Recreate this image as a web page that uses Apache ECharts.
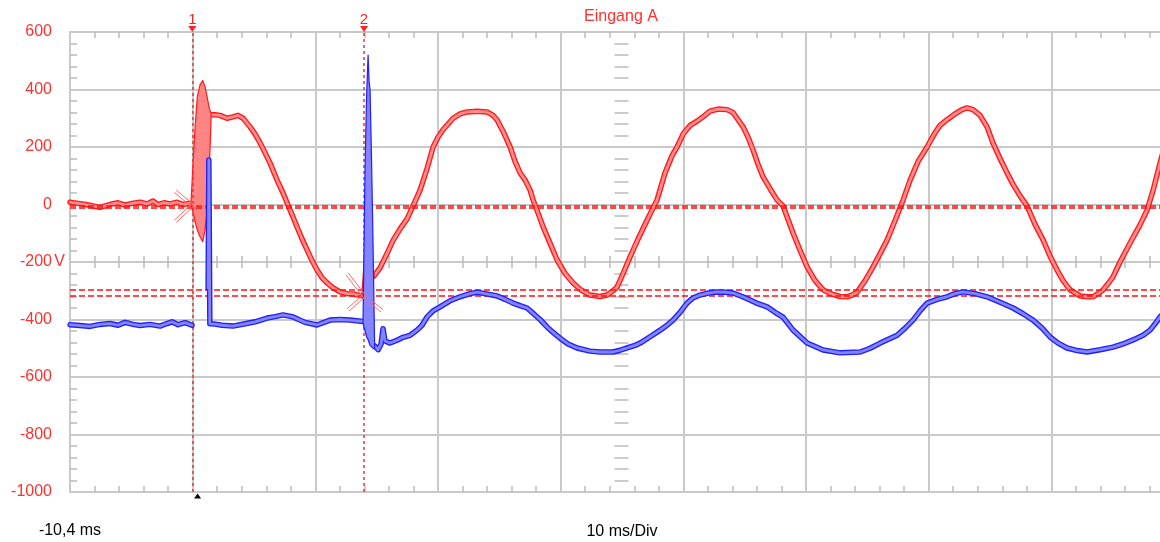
<!DOCTYPE html>
<html>
<head>
<meta charset="utf-8">
<script src="https://cdn.jsdelivr.net/npm/echarts@6.0.0/dist/echarts.min.js"></script>
<style>
  html, body { margin: 0; padding: 0; background: #fff; }
  #chart { width: 1160px; height: 542px; }
</style>
</head>
<body>
<div id="chart"></div>
<script>
// Channel A (red) and channel B (blue): [time ms, volts], null = gap
const chA = [
  [-10.4, 8], [-9.74, 4], [-9.09, 0], [-8.44, -6], [-7.95, -10], [-7.46, -4], [-6.97, 2], [-6.48, 6],
  [-5.91, -2], [-5.34, 4], [-4.69, 8], [-4.12, 2], [-3.63, 12], [-3.22, 0], [-2.73, 6], [-2.24, 2],
  [-1.67, 8], [-1.18, 0], [-0.69, 4], [-0.53, 2], [0.3, null],
  [1.10, 312], [1.43, 312], [1.83, 310], [2.40, 300], [2.89, 305], [3.30, 310], [3.71, 300], [4.28, 270],
  [4.69, 245], [5.10, 214], [5.50, 180], [5.91, 144], [6.48, 85], [6.97, 40], [7.30, 5], [7.70, -35],
  [8.11, -78], [8.52, -120], [8.93, -158], [9.33, -195], [9.74, -228], [10.15, -255], [10.56, -273],
  [11.05, -290], [11.62, -304], [12.19, -310], [12.68, -311], [13.08, -315], [13.41, -318], [13.9, null],
  [14.39, -248], [14.88, -220], [15.45, -170], [15.94, -125], [16.51, -85], [17.08, -50], [17.57, -5],
  [18.14, 50], [18.71, 125], [19.20, 200], [19.61, 235], [20.01, 260], [20.42, 280], [20.83, 300],
  [21.40, 315], [21.97, 322], [22.79, 324], [23.60, 322], [24.09, 310], [24.42, 294], [24.90, 255],
  [25.48, 200], [25.88, 150], [26.29, 110], [26.70, 85], [27.11, 50], [27.35, 16], [27.76, -30],
  [28.17, -78], [28.74, -135], [29.31, -193], [29.96, -240], [30.61, -273], [31.18, -295], [31.99, -315],
  [32.81, -320], [33.38, -315], [33.87, -300], [34.20, -287], [34.69, -240], [35.26, -182], [35.91, -120],
  [36.65, -54], [37.46, 16], [38.11, 110], [38.68, 170], [39.09, 200], [39.58, 245], [40.15, 275],
  [40.72, 290], [41.21, 305], [41.78, 325], [42.43, 332], [43.16, 330], [43.65, 320], [44.47, 270],
  [44.87, 235], [45.28, 190], [45.69, 140], [46.10, 96], [46.67, 55], [47.24, 16], [47.73, -5],
  [48.55, -100], [49.12, -160], [49.69, -217], [50.34, -265], [51.00, -297], [51.73, -312], [52.38, -320],
  [52.95, -321], [53.36, -315], [53.77, -305], [54.42, -265], [55.07, -217], [55.65, -170], [56.22, -123],
  [56.87, -55], [57.52, 16], [58.09, 85], [58.74, 150], [59.47, 200], [60.12, 250], [60.53, 275],
  [61.10, 295], [61.75, 315], [62.32, 330], [62.73, 336], [63.22, 330], [63.79, 310], [64.36, 270],
  [64.85, 213], [65.42, 160], [65.99, 110], [66.48, 70], [67.05, 30], [67.62, -5], [68.28, -70],
  [68.93, -123], [69.50, -180], [70.07, -228], [70.56, -265], [71.13, -297], [71.94, -318], [72.60, -321],
  [73.00, -321], [73.41, -310], [73.82, -297], [74.23, -275], [74.63, -252], [75.20, -200], [76.02, -134],
  [76.84, -70], [77.41, -19], [77.90, 50], [78.46, 144], [78.95, 220]
];

const chB = [
  [-10.4, -418], [-9.58, -421], [-8.76, -424], [-7.95, -417], [-7.13, -414], [-6.48, -420], [-5.91, -410],
  [-5.26, -417], [-4.69, -421], [-3.87, -417], [-3.06, -423], [-2.49, -414], [-2.08, -408], [-1.59, -418],
  [-1.02, -411], [-0.45, -420], [0.2, null],
  [0.86, -290], [0.92, 155], [1.0, -415], [1.10, -410], [1.43, -416], [2.00, -420], [2.89, -423],
  [3.87, -415], [4.69, -408], [5.67, -395], [6.32, -390], [6.97, -384], [7.79, -391], [8.76, -410],
  [9.74, -419], [10.80, -402], [11.62, -400], [12.43, -402], [13.49, -407], [13.9, null],
  [14.43, -492], [14.72, -505], [14.96, -485], [15.12, -432], [15.28, -475], [15.69, -482], [16.26, -472],
  [16.75, -462], [17.32, -455], [17.89, -437], [18.30, -420], [18.71, -391], [19.20, -370], [19.77, -356],
  [20.58, -335], [21.40, -321], [22.21, -310], [22.79, -305], [23.44, -310], [24.42, -318], [25.07, -330],
  [25.72, -343], [26.29, -352], [26.86, -360], [27.35, -378], [27.92, -400], [28.49, -426], [28.98, -445],
  [29.55, -465], [30.20, -485], [30.94, -499], [31.99, -510], [32.81, -513], [33.87, -513], [34.44, -507],
  [35.01, -499], [35.67, -490], [36.08, -482], [36.89, -460], [37.71, -437], [38.27, -420], [38.76, -402],
  [39.33, -375], [39.90, -343], [40.39, -325], [40.96, -315], [41.62, -308], [42.35, -304], [43.00, -305],
  [43.65, -308], [44.39, -320], [45.04, -332], [45.69, -345], [46.43, -356], [47.08, -375], [47.73, -392],
  [48.55, -437], [49.69, -482], [51.00, -506], [52.38, -516], [54.01, -513], [54.83, -500], [55.65, -482],
  [57.03, -455], [57.68, -430], [58.33, -402], [58.90, -370], [59.47, -343], [60.29, -330], [61.10, -321],
  [61.75, -310], [62.40, -304], [63.38, -310], [64.36, -321], [65.42, -340], [66.48, -360], [67.30, -380],
  [68.11, -402], [68.85, -430], [69.50, -461], [70.15, -482], [70.88, -499], [71.70, -508], [72.52, -513],
  [73.58, -505], [74.63, -496], [75.45, -485], [76.26, -471], [77.08, -455], [77.65, -437], [78.06, -415],
  [78.46, -391], [78.95, -370]
];

// min/max envelopes of the fast transients: [time ms, low, high]
const spikeA1 = [
  [-0.53, -6, 12], [-0.34, -31, 166], [-0.20, -60, 271], [-0.02, -89, 375], [0.20, -112, 416],
  [0.42, -129, 431], [0.61, -89, 410], [0.80, -8, 369], [0.96, 131, 334], [1.10, 294, 318]
];
const spikeA2 = [
  [13.41, -320, -306], [13.57, -322, -200], [13.74, -320, -110], [13.86, -310, -75], [13.98, -290, -120],
  [14.10, -270, -150], [14.23, -262, -230], [14.39, -258, -240]
];
const spikeB2 = [
  [13.49, -412, -402], [13.65, -440, 120], [13.78, -460, 380], [13.90, -470, 520], [13.98, -480, 430],
  [14.06, -490, 400], [14.18, -495, 160], [14.31, -500, -150], [14.43, -502, -482]
];

// cursors
const cursorTimes = [-0.43, 13.57];
const cursorNames = ['1', '2'];
const cursorLevels = [-3, -11, -295, -319];
const cursorMarks = [[-0.43, -3], [13.57, -318]];
const triggerTime = 0;

const xMin = -10.4, xMax = 79.6, xStep = 10;
const yMin = -1000, yMax = 600, yStep = 200;

const FONT = '"Liberation Sans", Arial, sans-serif';
const GRID_GRAY = '#c9c9c9';
const TICK_GRAY = '#bcbcbc';
const LABEL_RED = '#ff3030';

function xAx(extra) {
  return Object.assign({
    type: 'value', gridIndex: 0, min: xMin, max: xMax, interval: xStep,
    nameMoveOverlap: false,
    axisLine: { show: false, onZero: false },
    axisTick: { show: false, inside: true },
    axisLabel: { show: false },
    splitLine: { show: false },
    minorTick: { show: true, splitNumber: 5, length: 6, lineStyle: { color: TICK_GRAY, width: 1.5 } }
  }, extra);
}

function yAx(extra) {
  return Object.assign({
    type: 'value', gridIndex: 0, min: yMin, max: yMax, interval: yStep,
    nameMoveOverlap: false,
    axisLine: { show: false, onZero: false },
    axisTick: { show: false, inside: true },
    axisLabel: { show: false },
    splitLine: { show: false },
    minorTick: { show: true, splitNumber: 5, length: 7, lineStyle: { color: TICK_GRAY, width: 1.5 } }
  }, extra);
}

function trace(data, color, width, z) {
  return {
    type: 'line', z: z, silent: true, animation: false,
    symbol: 'none', showSymbol: false, connectNulls: false,
    data: data.map(p => [p[0], p[1] === null ? '-' : p[1]]),
    lineStyle: { color: color, width: width, join: 'round', cap: 'round' },
    itemStyle: { color: color }
  };
}

function envelope(rows, fill, stroke, z) {
  return {
    type: 'custom', z: z, silent: true, animation: false,
    data: rows,
    encode: { x: 0, y: [1, 2] },
    renderItem(params, api) {
      if (params.dataIndex !== 0) return;
      const pts = [];
      rows.forEach(r => pts.push(api.coord([r[0], r[2]])));
      for (let i = rows.length - 1; i >= 0; i--) pts.push(api.coord([rows[i][0], rows[i][1]]));
      return {
        type: 'polygon',
        shape: { points: pts },
        style: { fill: fill, stroke: stroke, lineWidth: 1.2, lineJoin: 'round' }
      };
    }
  };
}

// ray pictograms drawn at the cursor crossings (pixel offsets, style only)
const rayShapes = [
  [[-17, -14], [-17, 16]],
  [[-17, -22], [-16, 14], [18, 15]]
];

const chart = echarts.init(document.getElementById('chart'));
chart.setOption({
  backgroundColor: '#ffffff',
  animation: false,
  title: {
    text: 'Eingang A', left: 621, top: 9, padding: 0, textAlign: 'center',
    textStyle: { color: LABEL_RED, fontSize: 16, fontWeight: 'normal', fontFamily: FONT }
  },
  grid: { left: 70, right: -14, top: 32, bottom: 50, containLabel: false, outerBoundsMode: 'none' },
  xAxis: [
    xAx({
      position: 'bottom',
      axisLine: { show: true, onZero: false, lineStyle: { color: GRID_GRAY, width: 2 } },
      splitLine: { show: true, lineStyle: { color: GRID_GRAY, width: 2 } },
      axisLabel: {
        show: true, margin: 31, color: '#000', fontSize: 16, fontFamily: FONT,
        formatter: v => Math.abs(v - xMin) < 0.01 ? '-10,4 ms' : ''
      },
      name: '10 ms/Div', nameLocation: 'middle', nameGap: 32,
      nameTextStyle: { color: '#000', fontSize: 16, fontFamily: FONT }
    }),
    xAx({
      position: 'top',
      axisLine: { show: true, onZero: false, lineStyle: { color: GRID_GRAY, width: 2 } }
    }),
    xAx({ position: 'bottom', offset: -230, axisTick: { show: false, inside: true } }),
    xAx({ position: 'bottom', offset: -230, axisTick: { show: false, inside: false } })
  ],
  yAxis: [
    yAx({
      position: 'left',
      axisLine: { show: true, onZero: false, lineStyle: { color: GRID_GRAY, width: 2 } },
      splitLine: { show: true, lineStyle: { color: GRID_GRAY, width: 2 } },
      axisLabel: { show: true, margin: 18, color: LABEL_RED, fontSize: 16, fontFamily: FONT, formatter: v => String(v) },
      name: 'V', nameLocation: 'middle', nameRotate: 0, nameGap: 5,
      nameTextStyle: { color: LABEL_RED, fontSize: 16, fontFamily: FONT, align: 'right', verticalAlign: 'middle' }
    }),
    yAx({ position: 'left', offset: -551.5, axisTick: { show: false, inside: true } }),
    yAx({ position: 'left', offset: -551.5, axisTick: { show: false, inside: false } })
  ],
  series: [
    trace(chA, '#ff1a1a', 5.5, 2),
    trace(chA, '#ff8c8c', 2.8, 3),
    envelope(spikeA1, '#ff8484', '#ff1a1a', 4),
    envelope(spikeA2, '#ff8484', '#ff1a1a', 4),
    trace(chB, '#1f1fff', 5.5, 5),
    trace(chB, '#8484ff', 2.8, 6),
    envelope(spikeB2, '#8484ff', '#1f1fff', 7),
    {
      type: 'custom', z: 8, silent: true, animation: false,
      data: cursorMarks,
      renderItem(params, api) {
        const c = api.coord([api.value(0), api.value(1)]);
        const children = [];
        rayShapes[params.dataIndex].forEach(([dx, dy]) => {
          const len = Math.hypot(dx, dy);
          const nx = -dy / len * 1.5, ny = dx / len * 1.5;
          [1, -1].forEach(s => children.push({
            type: 'line',
            shape: { x1: c[0] + s * nx, y1: c[1] + s * ny, x2: c[0] + dx + s * nx, y2: c[1] + dy + s * ny },
            style: { stroke: '#ff6a6a', lineWidth: 1 }
          }));
        });
        return { type: 'group', children: children };
      }
    },
    {
      type: 'line', z: 9, silent: true, animation: false, data: [],
      markLine: {
        silent: true, animation: false, symbol: ['none', 'none'],
        label: { show: false },
        data: cursorTimes.map(t => ({ xAxis: t, lineStyle: { type: [3, 3], width: 1.5, color: '#ff2a2a' } }))
          .concat(cursorLevels.map(v => ({ yAxis: v, lineStyle: { type: [6, 3], width: 1.5, color: '#ff1010' } })))
      },
      markPoint: {
        silent: true, animation: false,
        data: cursorTimes.map((t, i) => ({
          coord: [t, yMax], symbol: 'triangle', symbolSize: [8, 6], symbolRotate: 180, symbolOffset: [0, -3],
          itemStyle: { color: '#ff2020' },
          label: { show: true, formatter: cursorNames[i], position: 'top', distance: -1, color: '#ff2020', fontSize: 15, fontFamily: FONT }
        })).concat([{
          coord: [triggerTime, yMin], symbol: 'triangle', symbolSize: [7, 5], symbolOffset: [0, 4],
          itemStyle: { color: '#000' }, label: { show: false }
        }])
      }
    }
  ]
});
</script>
</body>
</html>
